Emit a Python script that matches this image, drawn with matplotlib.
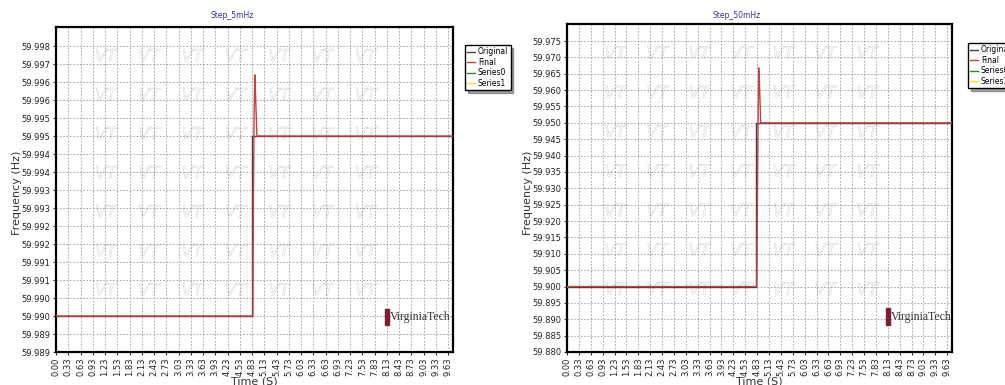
import numpy as np
import matplotlib
matplotlib.use("Agg")
import matplotlib.pyplot as plt
import matplotlib.patheffects as pe
from matplotlib.patches import Rectangle

# x tick labels (seconds), evenly spaced on the chart
x_labels = ["0.00", "0.33", "0.63", "0.93", "1.23", "1.53", "1.83", "2.13", "2.43",
            "2.73", "3.03", "3.33", "3.63", "3.93", "4.23", "4.53", "4.83", "5.13",
            "5.43", "5.73", "6.03", "6.33", "6.63", "6.93", "7.23", "7.53", "7.83",
            "8.13", "8.43", "8.73", "9.03", "9.33", "9.63"]
x_vals = [float(s) for s in x_labels]

# Step_5mHz
t_orig_5 = [0.0, 4.83, 4.83, 9.75]
f_orig_5 = [59.990, 59.990, 59.995, 59.995]
t_final_5 = [0.0, 4.85, 4.865, 4.88, 4.90, 4.92, 4.95, 9.75]
f_final_5 = [59.990, 59.990, 59.9935, 59.9955, 59.9967, 59.9960, 59.995, 59.995]
yticks_5 = [59.989 + 0.0005 * k for k in range(18)]
ylabels_5 = ["59.989", "59.989", "59.990", "59.990", "59.991", "59.991", "59.992",
             "59.992", "59.993", "59.993", "59.994", "59.994", "59.995", "59.995",
             "59.996", "59.996", "59.997", "59.998"]

# Step_50mHz
t_orig_50 = [0.0, 4.80, 4.80, 9.75]
f_orig_50 = [59.900, 59.900, 59.950, 59.950]
t_final_50 = [0.0, 4.82, 4.835, 4.85, 4.87, 4.89, 4.92, 9.75]
f_final_50 = [59.900, 59.900, 59.922, 59.945, 59.9668, 59.962, 59.950, 59.950]
yticks_50 = [59.880 + 0.005 * k for k in range(20)]
ylabels_50 = ["%.3f" % v for v in yticks_50]

W, H = 1005, 385
fig = plt.figure(figsize=(W / 100, H / 100), dpi=100)
fig.patch.set_facecolor("white")

red = "#c8403f"
dark = "#404040"
grid_c = "#9a9a9a"


def pos_of(t):
    t = np.asarray(t, dtype=float)
    p = np.interp(t, x_vals, np.arange(len(x_vals)))
    over = t > x_vals[-1]
    p[over] = len(x_vals) - 1 + (t[over] - x_vals[-1]) / 0.3
    return p


def panel(rect, title, title_x, yticks, ylabels, ylim, t_o, f_o, t_f, f_f, leg_xy, ylab_x):
    l, b, r, t = rect
    ax = fig.add_axes([l / W, 1 - b / H, (r - l) / W, (b - t) / H])
    # watermark "VT"
    for cx in np.linspace(0.125, 0.78, 7):
        for cy in np.linspace(0.91, 0.19, 7):
            ax.text(cx, cy, "VT", transform=ax.transAxes, fontsize=12, fontstyle="italic",
                    color="none", ha="center", va="center",
                    path_effects=[pe.withStroke(linewidth=0.5, foreground="#dedede")],
                    zorder=0)
    ax.plot(pos_of(t_o), f_o, color=dark, lw=1.0, label="Original", zorder=3)
    ax.plot(pos_of(t_f), f_f, color=red, lw=1.0, label="Final", zorder=4)
    ax.plot([], [], color="#2e8b2e", lw=1.0, label="Series0")
    ax.plot([], [], color="#f0e030", lw=1.0, label="Series1")
    ax.set_xlim(0, 32.4)
    ax.set_ylim(*ylim)
    ax.set_xticks(np.arange(len(x_labels)))
    ax.set_xticklabels(x_labels, rotation=90, fontsize=6, color="#222222")
    ax.set_yticks(yticks)
    ax.set_yticklabels(ylabels, fontsize=6, color="#222222")
    ax.tick_params(length=2, width=0.6, pad=2)
    ax.grid(True, color=grid_c, linestyle=(0, (2, 2)), linewidth=0.6)
    for s in ax.spines.values():
        s.set_linewidth(1.6)
        s.set_color("black")
    ax.set_xlabel("Time (S)", fontsize=8, labelpad=0, color="#333333")
    fig.text(ylab_x / W, 0.5, "Frequency (Hz)", rotation=90, fontsize=8,
             color="#333333", ha="center", va="center")
    fig.text(title_x / W, 1 - 16 / H, title, fontsize=5.5, color="#333399",
             ha="center", va="center")
    # Virginia Tech logo
    ax.add_patch(Rectangle((0.828, 0.083), 0.012, 0.05, transform=ax.transAxes,
                           color="#7a1f2b", zorder=5))
    ax.text(0.842, 0.108, "VirginiaTech", transform=ax.transAxes, fontsize=8.5,
            family="Liberation Serif", color="#333333", va="center", ha="left",
            zorder=5)
    fig.legend(handles=ax.get_lines(), loc="upper left",
               bbox_to_anchor=(leg_xy[0] / W, 1 - leg_xy[1] / H),
               fontsize=5.5, frameon=True, fancybox=False, shadow=True,
               edgecolor="black", handlelength=1.0, handletextpad=0.4,
               labelspacing=0.2, borderpad=0.3, borderaxespad=0)
    return ax


panel((56, 352, 453, 27), "Step_5mHz", 232, yticks_5, ylabels_5, (59.989, 59.99803),
      t_orig_5, f_orig_5, t_final_5, f_final_5, (465, 45), 17)
panel((567, 352, 952, 24), "Step_50mHz", 737, yticks_50, ylabels_50, (59.880, 59.9802),
      t_orig_50, f_orig_50, t_final_50, f_final_50, (968, 43), 528)

fig.savefig("out.png", dpi=100)
